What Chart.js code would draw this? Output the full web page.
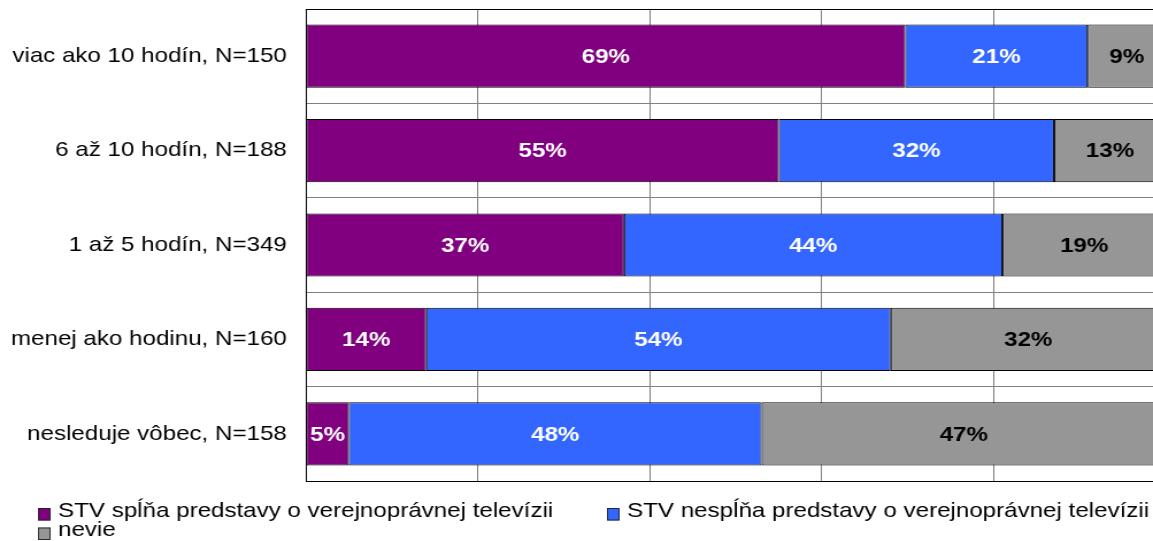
<!DOCTYPE html>
<html><head><meta charset="utf-8">
<script src="https://cdn.jsdelivr.net/npm/chart.js@4/dist/chart.umd.min.js"></script>
<style>
html,body{margin:0;padding:0;background:#fff;overflow:hidden;}
#wrap{width:1003px;height:541px;transform:scaleX(1.14955);transform-origin:0 0;}
canvas{display:block;}
</style></head><body>
<div id="wrap"><canvas id="c" width="1003" height="541"></canvas></div>
<script>
const categories = [
  'viac ako 10 hodín, N=150',
  '6 až 10 hodín, N=188',
  '1 až 5 hodín, N=349',
  'menej ako hodinu, N=160',
  'nesleduje vôbec, N=158'
];
const seriesNames = [
  'STV spĺňa predstavy o verejnoprávnej televízii',
  'STV nespĺňa predstavy o verejnoprávnej televízii',
  'nevie'
];
const fulfils = [69, 55, 37, 14, 5];
const notFulfils = [21, 32, 44, 54, 48];
const dontKnow = [9, 13, 19, 32, 47];
const xTicks = [0, 20, 40, 60, 80];
const xMax = 98.5;

const FONT = "'Liberation Sans', Arial, sans-serif";
const totals = categories.map((_, i) => fulfils[i] + notFulfils[i] + dontKnow[i]);
const share = arr => arr.map((v, i) => v / totals[i] * 100);

const raws = [fulfils, notFulfils, dontKnow];
const colors = ['#800080', '#3366FF', '#969696'];
const labelColors = ['#ffffff', '#ffffff', '#000000'];

const datasets = raws.map((arr, k) => ({
  label: seriesNames[k],
  data: share(arr),
  backgroundColor: colors[k],
  borderColor: '#000000',
  borderWidth: 1,
  borderSkipped: false,
  barPercentage: 0.67,
  categoryPercentage: 1.0
}));

const barLabels = {
  id: 'barLabels',
  afterDatasetsDraw(chart) {
    const ctx = chart.ctx;
    ctx.save();
    ctx.font = 'bold 21px ' + FONT;
    ctx.textAlign = 'center';
    ctx.textBaseline = 'middle';
    chart.data.datasets.forEach((ds, k) => {
      const meta = chart.getDatasetMeta(k);
      meta.data.forEach((el, i) => {
        const cx = (el.x + el.base) / 2;
        ctx.fillStyle = labelColors[k];
        ctx.fillText(raws[k][i] + '%', cx, el.y + 1);
      });
    });
    ctx.restore();
  }
};

const customLegend = {
  id: 'customLegend',
  afterDraw(chart) {
    const ctx = chart.ctx;
    const pos = [
      {x: 33, base: 516.5},
      {x: 528, base: 516.5},
      {x: 33, base: 536}
    ];
    ctx.save();
    ctx.font = '21px ' + FONT;
    ctx.textAlign = 'left';
    ctx.textBaseline = 'alphabetic';
    chart.data.datasets.forEach((ds, k) => {
      const p = pos[k];
      const top = p.base - 8.5;
      ctx.fillStyle = ds.backgroundColor;
      ctx.fillRect(p.x, top, 11, 12.5);
      ctx.strokeStyle = '#222';
      ctx.lineWidth = 0.9;
      ctx.strokeRect(p.x + 0.5, top + 0.5, 10, 11.5);
      ctx.fillStyle = '#000';
      ctx.fillText(ds.label, p.x + 17.5, p.base);
    });
    ctx.restore();
  }
};

new Chart(document.getElementById('c'), {
  type: 'bar',
  data: { labels: categories, datasets },
  options: {
    indexAxis: 'y',
    responsive: false,
    animation: false,
    devicePixelRatio: 1,
    layout: { padding: { top: 9, bottom: 60, left: 0, right: 0 } },
    plugins: { legend: { display: false }, tooltip: { enabled: false } },
    scales: {
      x: {
        stacked: true,
        min: 0,
        max: xMax,
        afterBuildTicks(scale) { scale.ticks = xTicks.map(v => ({ value: v })); },
        afterFit(scale) { scale.height = 0; scale.paddingLeft = 0; scale.paddingRight = 0; },
        ticks: { display: false },
        grid: { color: '#808080', lineWidth: 1, drawTicks: false },
        border: { display: true, color: '#000000', width: 1 }
      },
      y: {
        stacked: true,
        afterFit(scale) { scale.width = 266; scale.paddingTop = 0; scale.paddingBottom = 0; },
        ticks: { color: '#000000', font: { family: FONT, size: 21 }, padding: 16.5 },
        grid: {
          drawTicks: false,
          lineWidth: 1,
          color: c => (c.index === 0 || c.index === categories.length) ? '#000000' : '#808080'
        },
        border: { display: true, color: '#000000', width: 1 }
      }
    }
  },
  plugins: [barLabels, customLegend]
});
</script>
</body></html>
